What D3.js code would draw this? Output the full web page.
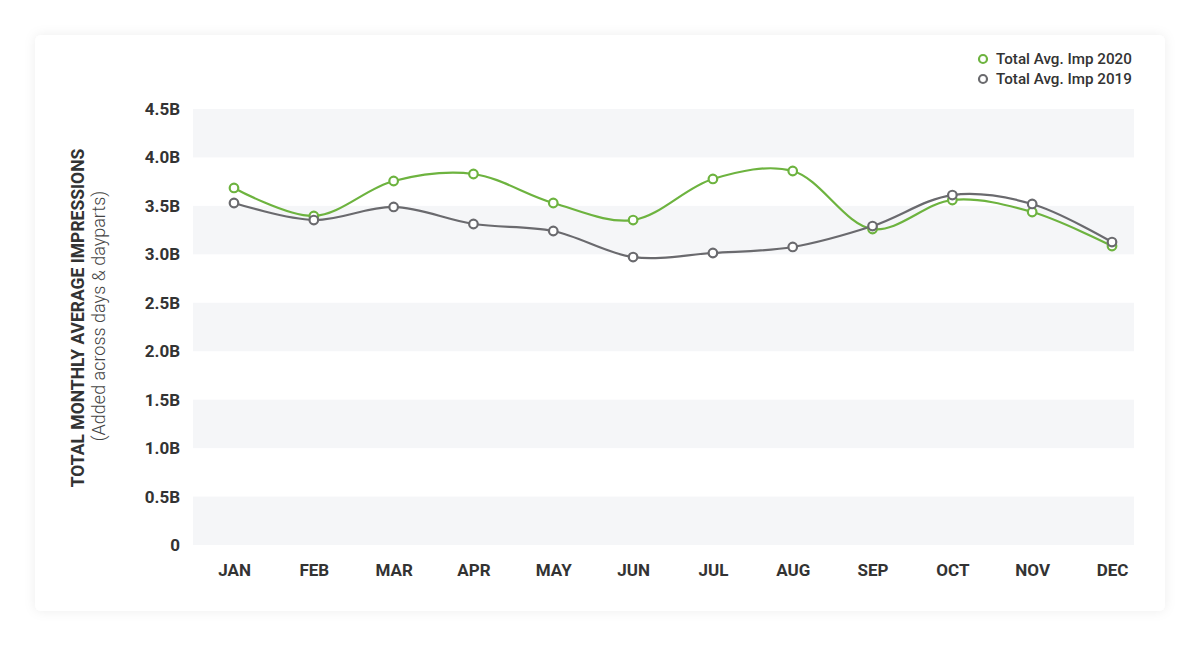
<!DOCTYPE html>
<html>
<head>
<meta charset="utf-8">
<script src="https://cdn.jsdelivr.net/npm/d3@7"></script>
<style>
  html, body { margin: 0; padding: 0; background: #ffffff; }
  svg { display: block; font-family: Roboto, "Noto Sans", sans-serif; }
</style>
</head>
<body>
<svg id="chart" width="1200" height="646"></svg>
<script>
const months = ["JAN","FEB","MAR","APR","MAY","JUN","JUL","AUG","SEP","OCT","NOV","DEC"];
const imp2020 = [3.685, 3.396, 3.757, 3.829, 3.530, 3.354, 3.778, 3.860, 3.261, 3.561, 3.437, 3.086];
const imp2019 = [3.530, 3.354, 3.489, 3.313, 3.241, 2.972, 3.014, 3.076, 3.292, 3.612, 3.520, 3.127];
const yTicks = [0, 0.5, 1.0, 1.5, 2.0, 2.5, 3.0, 3.5, 4.0, 4.5];
const yTickLabels = ["0","0.5B","1.0B","1.5B","2.0B","2.5B","3.0B","3.5B","4.0B","4.5B"];
const seriesNames = ["Total Avg. Imp 2020", "Total Avg. Imp 2019"];
const seriesColors = ["#6db33f", "#6a6a6e"];

const svg = d3.select("#chart");
const defs = svg.append("defs");
const f = defs.append("filter").attr("id","shadow").attr("x","-5%").attr("y","-5%").attr("width","110%").attr("height","110%");
f.append("feDropShadow").attr("dx",0).attr("dy",0).attr("stdDeviation",6).attr("flood-color","#000").attr("flood-opacity",0.07);

svg.append("rect").attr("x",35).attr("y",35).attr("width",1130).attr("height",576)
  .attr("rx",6).attr("fill","#fff").attr("filter","url(#shadow)");

const plotLeft = 193, plotRight = 1134;
const y = d3.scaleLinear().domain([0, 4.5]).range([545, 109]);
const x = d3.scalePoint().domain(months).range([234, 1112]);

// alternating bands
const bands = [[4.0,4.5],[3.0,3.5],[2.0,2.5],[1.0,1.5],[0,0.5]];
svg.append("g").selectAll("rect").data(bands).join("rect")
  .attr("x", plotLeft).attr("width", plotRight - plotLeft)
  .attr("y", d => y(d[1])).attr("height", d => y(d[0]) - y(d[1]))
  .attr("fill", "#f5f6f8");

// y axis
const yAxis = d3.axisLeft(y).tickValues(yTicks).tickFormat((d,i) => yTickLabels[i]).tickSize(0).tickPadding(0);
const yg = svg.append("g").attr("transform", "translate(180,0)").call(yAxis);
yg.select(".domain").remove();
yg.selectAll("text").attr("font-size", 17).attr("font-weight", 700).attr("fill", "#333")
  .attr("font-family", "Roboto, sans-serif");

// x axis
const xAxis = d3.axisBottom(x).tickSize(0).tickPadding(0);
const xg = svg.append("g").attr("transform", "translate(0,564)").call(xAxis);
xg.select(".domain").remove();
xg.selectAll("text").attr("font-size", 17).attr("font-weight", 700).attr("fill", "#333")
  .attr("font-family", "Roboto, sans-serif");

// axis titles
svg.append("text").attr("transform","translate(84,318) rotate(-90)").attr("text-anchor","middle")
  .attr("font-size",17.5).attr("font-weight",700).attr("fill","#333").text("TOTAL MONTHLY AVERAGE IMPRESSIONS");
svg.append("text").attr("transform","translate(105,316) rotate(-90)").attr("text-anchor","middle")
  .attr("font-size",18).attr("font-weight",300).attr("fill","#444").text("(Added across days & dayparts)");

// lines
const line = d3.line().x((d,i) => x(months[i])).y(d => y(d)).curve(d3.curveCatmullRom.alpha(0.5));
const data = [imp2020, imp2019];
data.forEach((vals, si) => {
  svg.append("g").append("path").attr("d", line(vals)).attr("fill","none")
    .attr("stroke", seriesColors[si]).attr("stroke-width", 2.2);
});
data.forEach((vals, si) => {
  svg.append("g").selectAll("circle").data(vals).join("circle")
    .attr("cx", (d,i) => x(months[i])).attr("cy", d => y(d)).attr("r", 4.3)
    .attr("fill","#fff").attr("stroke", seriesColors[si]).attr("stroke-width", 2.2);
});

// legend
const lg = svg.append("g");
seriesNames.forEach((n, i) => {
  lg.append("circle").attr("cx", 983).attr("cy", 59 + i*20).attr("r", 4).attr("fill","#fff")
    .attr("stroke", seriesColors[i]).attr("stroke-width", 2.2);
  lg.append("text").attr("x", 996).attr("y", 59 + i*20).attr("dy","0.35em")
    .attr("font-size", 15.2).attr("font-weight", 500).attr("fill","#333").text(n);
});
</script>
</body>
</html>
